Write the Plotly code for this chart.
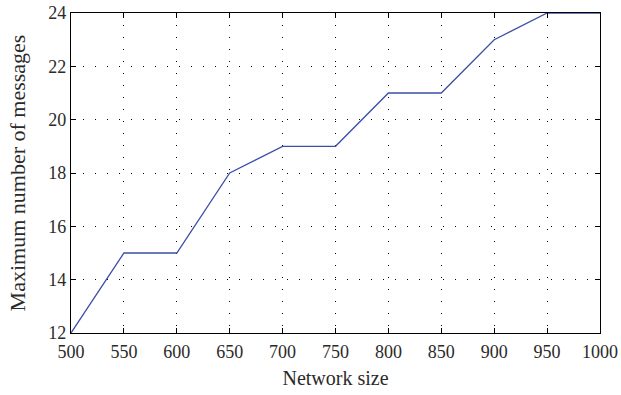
import plotly.graph_objects as go

network_size = [500, 550, 600, 650, 700, 750, 800, 850, 900, 950, 1000]
max_messages = [12, 15, 15, 18, 19, 19, 21, 21, 23, 24, 24]
x_ticks = [500, 550, 600, 650, 700, 750, 800, 850, 900, 950, 1000]
y_ticks = [12, 14, 16, 18, 20, 22, 24]

fig = go.Figure()
fig.add_trace(go.Scatter(x=network_size, y=max_messages, mode="lines",
                         line=dict(color="#3b4fa8", width=1.3), showlegend=False))

font = dict(family="Liberation Serif, Times New Roman, serif", size=18, color="#2a2a2a")
xtitle_font = dict(family="Liberation Serif, Times New Roman, serif", size=20, color="#2a2a2a")
ytitle_font = dict(family="Liberation Serif, Times New Roman, serif", size=22, color="#2a2a2a")
axis_common = dict(showline=True, linecolor="black", linewidth=1.2, mirror="ticks",
                   ticks="inside", ticklen=5, tickcolor="black", tickwidth=1.2,
                   showgrid=True, gridcolor="black", griddash="1px,11px", gridwidth=1,
                   zeroline=False, tickfont=font, automargin=False)

fig.update_layout(
    width=621, height=395,
    margin=dict(l=71, r=21, t=13, b=62),
    paper_bgcolor="white", plot_bgcolor="white",
    font=font,
    xaxis=dict(range=[500, 1000], tickvals=x_ticks, ticklabelstandoff=2,
               title=dict(text="Network size", font=xtitle_font, standoff=10), **axis_common),
    yaxis=dict(range=[12, 24], tickvals=y_ticks,
               title=dict(text="Maximum number of messages", font=ytitle_font, standoff=16), **axis_common),
)
fig.write_html("out.html", config={"displayModeBar": False},
               post_script="document.body.style.margin='0';document.body.style.overflow='hidden';")
